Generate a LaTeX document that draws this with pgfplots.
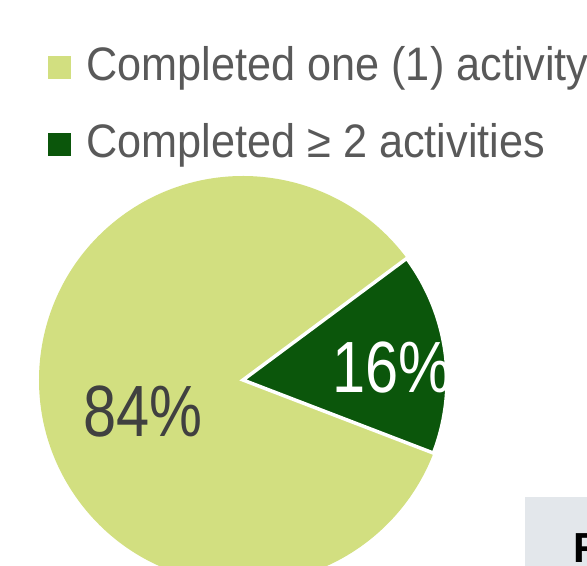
\documentclass[border=0pt]{standalone}
\usepackage{pgfplots}
\pgfplotsset{compat=1.18}
\usepackage{pgfplotstable}
\usepackage{fontspec}
\setmainfont{Liberation Sans}
\newfontfamily\legfont[FakeStretch=0.92]{Liberation Sans}
\newfontfamily\lblfont[FakeStretch=0.82]{Liberation Sans}
\definecolor{lightg}{HTML}{D2DF80}
\definecolor{darkg}{HTML}{0B560B}
\definecolor{legtext}{HTML}{595959}
\definecolor{lbltext}{HTML}{404040}
\definecolor{boxgrey}{HTML}{E3E7EB}

\pgfplotstableread{
label value
one 84
two 16
}\piedata

\begin{document}
\begin{tikzpicture}
\pgfplotstablegetelem{0}{value}\of\piedata \let\vA\pgfplotsretval
\pgfplotstablegetelem{1}{value}\of\piedata \let\vB\pgfplotsretval
\pgfmathsetmacro\aStart{36.6}
\pgfmathsetmacro\aMid{\aStart+3.6*\vA}
\pgfmathsetmacro\aEnd{\aMid+3.6*\vB}
\begin{axis}[
  width=587bp, height=566bp, scale only axis,
  xmin=0, xmax=587, ymin=0, ymax=566,
  axis lines=none, clip=true,
  legend style={at={(0.08177,0.92049)}, anchor=north west, draw=none, fill=none,
    inner sep=0pt, outer sep=0pt,
    font=\legfont\fontsize{47bp}{56bp}\selectfont, text=legtext,
    column sep=16bp, row sep=31bp,
    nodes={inner sep=0pt, anchor=base west, text height=36bp, text depth=10bp}},
]
\fill[lightg] (axis cs:243,186) -- ++(\aStart:204bp) arc[start angle=\aStart, end angle=\aMid, radius=204bp] -- cycle;
\filldraw[fill=darkg, draw=white, line width=3.5bp, line join=miter] (axis cs:243,186) -- ++(\aMid:204bp) arc[start angle=\aMid, end angle=\aEnd, radius=204bp] -- cycle;
\node[anchor=base west, inner sep=0pt, text=lbltext, font=\lblfont\fontsize{72.6bp}{80bp}\selectfont] at (axis cs:83,129) {\vA\%};
\node[anchor=base west, inner sep=0pt, text=white, font=\lblfont\fontsize{72.6bp}{80bp}\selectfont] at (axis cs:332,173) {\vB\%};
\fill[boxgrey] (axis cs:525,0) rectangle (axis cs:620,69);
\node[anchor=base west, inner sep=0pt, text=black, font=\bfseries\fontsize{42bp}{48bp}\selectfont] at (axis cs:573,4) {R};
\addlegendimage{legend image code/.code={\fill[lightg] (0bp,3bp) rectangle (22bp,25bp);}}
\addlegendentry{Completed one (1) activity}
\addlegendimage{legend image code/.code={\fill[darkg] (0bp,3bp) rectangle (22bp,25bp);}}
\addlegendentry{Completed ≥ 2 activities}
\end{axis}
\pgfresetboundingbox
\path[use as bounding box] (current axis.south west) rectangle (current axis.north east);
\end{tikzpicture}
\end{document}
